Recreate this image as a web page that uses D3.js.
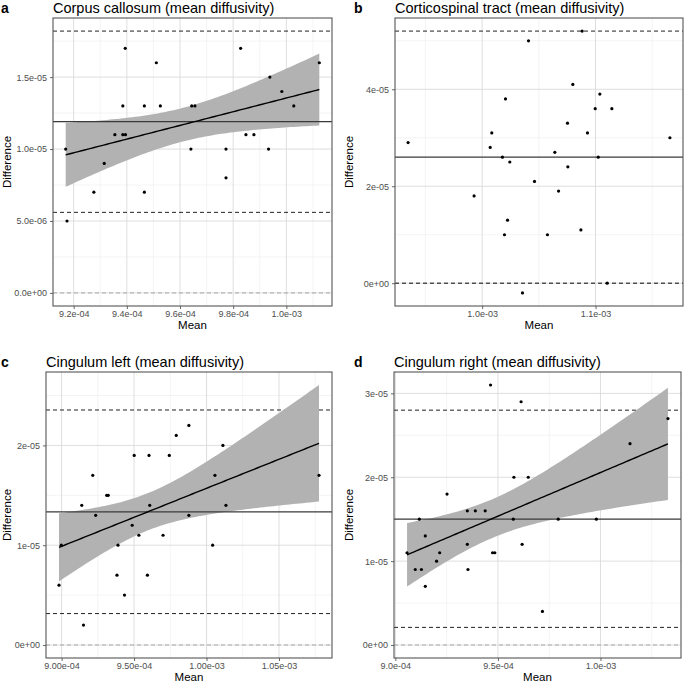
<!DOCTYPE html>
<html><head><meta charset="utf-8">
<script src="https://cdn.jsdelivr.net/npm/d3@7"></script>
<style>
html,body{margin:0;padding:0;background:#fff;}
svg{display:block;font-family:"Liberation Sans",Arial,Helvetica,sans-serif;}
</style></head>
<body>
<svg id="chart" width="684" height="683"></svg>
<script>
// ---------- data ----------
const titles = ["Corpus callosum (mean diffusivity)", "Corticospinal tract (mean diffusivity)", "Cingulum left (mean diffusivity)", "Cingulum right (mean diffusivity)"];
const letters = ["a", "b", "c", "d"];

const aMean = [9.170e-4, 9.394e-4, 9.511e-4, 9.385e-4, 9.466e-4, 9.526e-4, 9.644e-4, 9.656e-4, 9.828e-4, 9.938e-4, 9.983e-4, 1.0028e-3, 1.0124e-3, 9.355e-4, 9.385e-4, 9.395e-4, 9.848e-4, 9.878e-4, 9.641e-4, 9.773e-4, 9.933e-4, 9.315e-4, 9.276e-4, 9.466e-4, 9.773e-4, 9.175e-4];
const aDiff = [1.0e-5, 1.7e-5, 1.6e-5, 1.3e-5, 1.3e-5, 1.3e-5, 1.3e-5, 1.3e-5, 1.7e-5, 1.5e-5, 1.4e-5, 1.3e-5, 1.6e-5, 1.1e-5, 1.1e-5, 1.1e-5, 1.1e-5, 1.1e-5, 1.0e-5, 1.0e-5, 1.0e-5, 0.9e-5, 0.7e-5, 0.7e-5, 0.8e-5, 0.5e-5];

const bMean = [0.9347e-3, 1.0409e-3, 1.0882e-3, 1.0800e-3, 1.1038e-3, 1.0206e-3, 1.0997e-3, 1.1144e-3, 1.0753e-3, 1.0085e-3, 1.0929e-3, 1.1656e-3, 1.0071e-3, 1.0641e-3, 1.0179e-3, 1.1024e-3, 1.0244e-3, 1.0756e-3, 1.0462e-3, 1.0674e-3, 0.9929e-3, 1.0224e-3, 1.0197e-3, 1.0576e-3, 1.0871e-3, 1.0356e-3, 1.1103e-3];
const bDiff = [2.9e-5, 5.0e-5, 5.2e-5, 4.1e-5, 3.9e-5, 3.8e-5, 3.6e-5, 3.6e-5, 3.3e-5, 3.1e-5, 3.1e-5, 3.0e-5, 2.8e-5, 2.7e-5, 2.6e-5, 2.6e-5, 2.5e-5, 2.4e-5, 2.1e-5, 1.9e-5, 1.8e-5, 1.3e-5, 1.0e-5, 1.0e-5, 1.1e-5, -0.2e-5, 0.0];

const cMean = [9.878e-4, 9.791e-4, 1.0113e-3, 9.501e-4, 9.603e-4, 9.743e-4, 9.215e-4, 1.0058e-3, 1.0776e-3, 9.311e-4, 9.322e-4, 9.139e-4, 9.608e-4, 1.0134e-3, 9.235e-4, 9.878e-4, 9.487e-4, 9.533e-4, 9.700e-4, 8.998e-4, 9.389e-4, 1.0042e-3, 9.382e-4, 9.592e-4, 8.982e-4, 9.434e-4, 9.151e-4];
const cDiff = [2.2e-5, 2.1e-5, 2.0e-5, 1.9e-5, 1.9e-5, 1.9e-5, 1.7e-5, 1.7e-5, 1.7e-5, 1.5e-5, 1.5e-5, 1.4e-5, 1.4e-5, 1.4e-5, 1.3e-5, 1.3e-5, 1.2e-5, 1.1e-5, 1.1e-5, 1.0e-5, 1.0e-5, 1.0e-5, 0.7e-5, 0.7e-5, 0.6e-5, 0.5e-5, 0.2e-5];

const dMean = [9.464e-4, 9.613e-4, 1.0329e-3, 1.0144e-3, 9.578e-4, 9.648e-4, 9.252e-4, 9.351e-4, 9.390e-4, 9.438e-4, 9.117e-4, 9.575e-4, 9.794e-4, 9.980e-4, 9.146e-4, 9.351e-4, 9.618e-4, 9.057e-4, 9.216e-4, 9.474e-4, 9.485e-4, 9.201e-4, 9.097e-4, 9.127e-4, 9.354e-4, 9.146e-4, 9.717e-4];
const dDiff = [3.1e-5, 2.9e-5, 2.7e-5, 2.4e-5, 2.0e-5, 2.0e-5, 1.8e-5, 1.6e-5, 1.6e-5, 1.6e-5, 1.5e-5, 1.5e-5, 1.5e-5, 1.5e-5, 1.3e-5, 1.2e-5, 1.2e-5, 1.1e-5, 1.1e-5, 1.1e-5, 1.1e-5, 1.0e-5, 0.9e-5, 0.9e-5, 0.9e-5, 0.7e-5, 0.4e-5];

// mean difference, upper and lower limits of agreement
const aLines = [1.19e-5, 1.82e-5, 0.56e-5];
const bLines = [2.60e-5, 5.20e-5, 0.0];
const cLines = [1.335e-5, 2.355e-5, 0.315e-5];
const dLines = [1.50e-5, 2.80e-5, 0.21e-5];

const aXTicks = [9.2e-4, 9.4e-4, 9.6e-4, 9.8e-4, 1.0e-3];
const aXLabels = ["9.2e-04", "9.4e-04", "9.6e-04", "9.8e-04", "1.0e-03"];
const aYTicks = [0, 5e-6, 1e-5, 1.5e-5];
const aYLabels = ["0.0e+00", "5.0e-06", "1.0e-05", "1.5e-05"];
const bXTicks = [1.0e-3, 1.1e-3];
const bXLabels = ["1.0e-03", "1.1e-03"];
const bYTicks = [0, 2e-5, 4e-5];
const bYLabels = ["0e+00", "2e-05", "4e-05"];
const cXTicks = [9.0e-4, 9.5e-4, 1.0e-3, 1.05e-3];
const cXLabels = ["9.00e-04", "9.50e-04", "1.00e-03", "1.05e-03"];
const cYTicks = [0, 1e-5, 2e-5];
const cYLabels = ["0e+00", "1e-05", "2e-05"];
const dXTicks = [9.0e-4, 9.5e-4, 1.0e-3];
const dXLabels = ["9.0e-04", "9.5e-04", "1.0e-03"];
const dYTicks = [0, 1e-5, 2e-5, 3e-5];
const dYLabels = ["0e+00", "1e-05", "2e-05", "3e-05"];

const hasFit = [true, false, true, true];

// ---------- layout ----------
const panels = [
  {x: 53, y: 18, w: 279, h: 288, mean: aMean, diff: aDiff, lines: aLines, xt: aXTicks, xl: aXLabels, yt: aYTicks, yl: aYLabels},
  {x: 395, y: 18, w: 288, h: 288, mean: bMean, diff: bDiff, lines: bLines, xt: bXTicks, xl: bXLabels, yt: bYTicks, yl: bYLabels},
  {x: 46, y: 372, w: 286, h: 286, mean: cMean, diff: cDiff, lines: cLines, xt: cXTicks, xl: cXLabels, yt: cYTicks, yl: cYLabels},
  {x: 394, y: 372, w: 287, h: 286, mean: dMean, diff: dDiff, lines: dLines, xt: dXTicks, xl: dXLabels, yt: dYTicks, yl: dYLabels}
];
const cells = [{x0: 0, y0: 0}, {x0: 342, y0: 0}, {x0: 0, y0: 354}, {x0: 342, y0: 354}];

const svg = d3.select("#chart");

function tQuant(df) {
  const z = 1.959964;
  return z + (z ** 3 + z) / (4 * df) + (5 * z ** 5 + 16 * z ** 3 + 3 * z) / (96 * df * df)
    + (3 * z ** 7 + 19 * z ** 5 + 17 * z ** 3 - 15 * z) / (384 * df ** 3);
}

function fit(xs, ys) {
  const n = xs.length;
  const mx = d3.mean(xs), my = d3.mean(ys);
  let sxx = 0, sxy = 0;
  for (let i = 0; i < n; i++) { sxx += (xs[i] - mx) ** 2; sxy += (xs[i] - mx) * (ys[i] - my); }
  const b = sxy / sxx, a = my - b * mx;
  let sse = 0;
  for (let i = 0; i < n; i++) sse += (ys[i] - a - b * xs[i]) ** 2;
  const s = Math.sqrt(sse / (n - 2));
  const t = tQuant(n - 2);
  const [lo, hi] = d3.extent(xs);
  const pts = d3.range(81).map(k => {
    const x = lo + (hi - lo) * k / 80;
    const yv = a + b * x;
    const se = s * Math.sqrt(1 / n + (x - mx) ** 2 / sxx);
    return {x, y: yv, lo: yv - t * se, hi: yv + t * se};
  });
  return pts;
}

function minorTicks(major, dom) {
  const step = major.length > 1 ? major[1] - major[0] : 1;
  const out = [];
  for (let k = -20; k <= 40; k++) {
    const v = major[0] + step * (k + 0.5);
    if (v > dom[0] && v < dom[1]) out.push(v);
  }
  return out;
}

panels.forEach((p, i) => {
  const fitPts = hasFit[i] ? fit(p.mean, p.diff) : null;
  const xe = d3.extent(p.mean);
  const xpad = (xe[1] - xe[0]) * 0.05;
  const yVals = p.diff.concat(p.lines, [0]);
  if (fitPts) fitPts.forEach(q => { yVals.push(q.lo, q.hi); });
  const ye = d3.extent(yVals);
  const ypad = (ye[1] - ye[0]) * 0.05;

  const x = d3.scaleLinear().domain([xe[0] - xpad, xe[1] + xpad]).range([p.x, p.x + p.w]);
  const y = d3.scaleLinear().domain([ye[0] - ypad, ye[1] + ypad]).range([p.y + p.h, p.y]);

  const g = svg.append("g");
  const clipId = "clip" + i;
  svg.append("clipPath").attr("id", clipId).append("rect")
    .attr("x", p.x).attr("y", p.y).attr("width", p.w).attr("height", p.h);

  // grid
  const grid = g.append("g");
  minorTicks(p.xt, x.domain()).forEach(v => grid.append("line")
    .attr("x1", x(v)).attr("x2", x(v)).attr("y1", p.y).attr("y2", p.y + p.h)
    .attr("stroke", "#ececec").attr("stroke-width", 0.6));
  minorTicks(p.yt, y.domain()).forEach(v => grid.append("line")
    .attr("y1", y(v)).attr("y2", y(v)).attr("x1", p.x).attr("x2", p.x + p.w)
    .attr("stroke", "#ececec").attr("stroke-width", 0.6));
  p.xt.forEach(v => grid.append("line")
    .attr("x1", x(v)).attr("x2", x(v)).attr("y1", p.y).attr("y2", p.y + p.h)
    .attr("stroke", "#dadada").attr("stroke-width", 0.9));
  p.yt.forEach(v => grid.append("line")
    .attr("y1", y(v)).attr("y2", y(v)).attr("x1", p.x).attr("x2", p.x + p.w)
    .attr("stroke", "#dadada").attr("stroke-width", 0.9));

  const plot = g.append("g").attr("clip-path", `url(#${clipId})`);

  // zero reference
  plot.append("line").attr("x1", p.x).attr("x2", p.x + p.w).attr("y1", y(0)).attr("y2", y(0))
    .attr("stroke", "#a6a6a6").attr("stroke-width", 1).attr("stroke-dasharray", "4,3");

  // limits of agreement
  [p.lines[1], p.lines[2]].forEach(v => plot.append("line")
    .attr("x1", p.x).attr("x2", p.x + p.w).attr("y1", y(v)).attr("y2", y(v))
    .attr("stroke", "#222").attr("stroke-width", 1).attr("stroke-dasharray", "4,3"));

  // fit band
  if (fitPts) {
    plot.append("path").datum(fitPts)
      .attr("d", d3.area().x(d => x(d.x)).y0(d => y(d.lo)).y1(d => y(d.hi)))
      .attr("fill", "#b2b2b2");
  }
  // mean line
  plot.append("line").attr("x1", p.x).attr("x2", p.x + p.w).attr("y1", y(p.lines[0])).attr("y2", y(p.lines[0]))
    .attr("stroke", "#3a3a3a").attr("stroke-width", 1.2);
  if (fitPts) {
    plot.append("path").datum(fitPts)
      .attr("d", d3.line().x(d => x(d.x)).y(d => y(d.y)))
      .attr("fill", "none").attr("stroke", "#000").attr("stroke-width", 1.4);
  }

  // points
  plot.selectAll("circle.pt").data(p.mean).enter().append("circle")
    .attr("cx", d => x(d)).attr("cy", (d, k) => y(p.diff[k])).attr("r", 1.6).attr("fill", "#000");

  // border
  g.append("rect").attr("x", p.x).attr("y", p.y).attr("width", p.w).attr("height", p.h)
    .attr("fill", "none").attr("stroke", "#555").attr("stroke-width", 1.1);

  // axes
  const xAxis = d3.axisBottom(x).tickValues(p.xt).tickFormat((d, k) => p.xl[k]).tickSize(3).tickPadding(2);
  const ax = g.append("g").attr("transform", `translate(0,${p.y + p.h})`).call(xAxis);
  const yAxis = d3.axisLeft(y).tickValues(p.yt).tickFormat((d, k) => p.yl[k]).tickSize(3).tickPadding(3);
  const ay = g.append("g").attr("transform", `translate(${p.x},0)`).call(yAxis);
  [ax, ay].forEach(a => {
    a.select(".domain").remove();
    a.selectAll(".tick line").attr("stroke", "#555").attr("stroke-width", 0.9);
    a.selectAll(".tick text").attr("fill", "#4d4d4d").style("font-size", "9px");
  });

  // axis titles
  g.append("text").attr("x", p.x + p.w / 2).attr("y", p.y + p.h + 23)
    .attr("text-anchor", "middle").style("font-size", "11.5px").attr("fill", "#000").text("Mean");
  const c = cells[i];
  g.append("text").attr("transform", `translate(${c.x0 + 11},${p.y + p.h / 2}) rotate(-90)`)
    .attr("text-anchor", "middle").style("font-size", "11.5px").attr("fill", "#000").text("Difference");

  // title and letter
  g.append("text").attr("x", p.x).attr("y", p.y - 5)
    .style("font-size", "14.5px").attr("fill", "#000").text(titles[i]);
  g.append("text").attr("x", c.x0 + (i % 2 === 0 ? 1 : 12)).attr("y", p.y - 5)
    .style("font-size", "14px").style("font-weight", "bold").attr("fill", "#000").text(letters[i]);
});
</script>
</body></html>
